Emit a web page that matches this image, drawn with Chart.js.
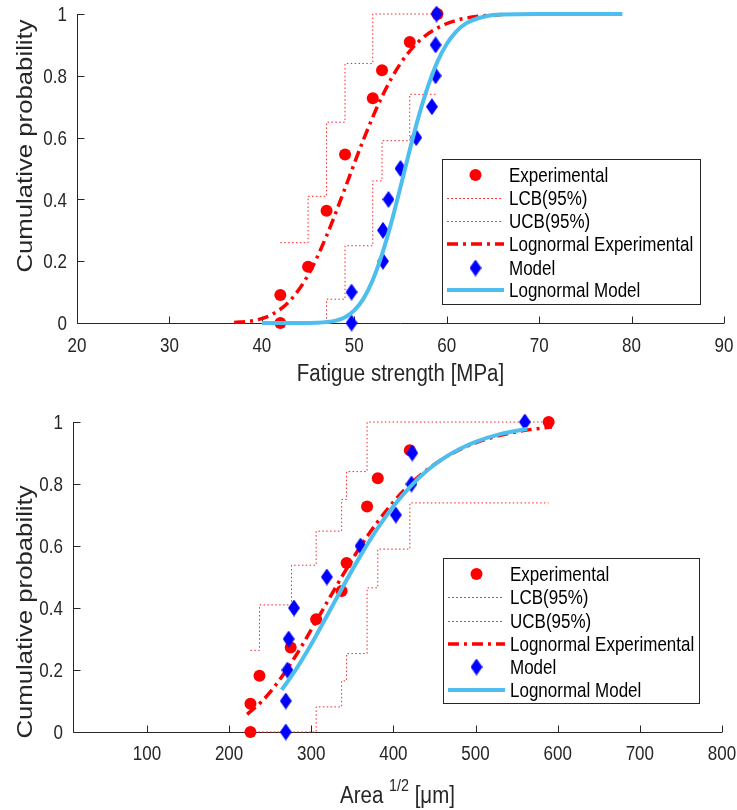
<!DOCTYPE html>
<html><head><meta charset="utf-8">
<script src="https://cdn.jsdelivr.net/npm/chart.js@4.4.1/dist/chart.umd.min.js"></script>
<style>
html,body{margin:0;padding:0;background:#fff;}
#wrap{position:relative;width:737px;height:810px;background:#fff;}
canvas{position:absolute;left:0;}
#c1{top:0;} #c2{top:390px;}
</style></head><body>
<div id="wrap"><canvas id="c1" width="737" height="390"></canvas><canvas id="c2" width="737" height="420"></canvas></div>
<script>
// ---------- Data: top panel (fatigue strength, MPa) ----------
const fsExpX = [42, 42, 45, 47, 49, 52, 53, 56, 59];
const fsExpY = [0, 0.0909, 0.1818, 0.3636, 0.5455, 0.7273, 0.8182, 0.9091, 1];
const fsUcbX = [42, 45, 47, 49, 52, 59];
const fsUcbY = [0.26, 0.41, 0.65, 0.84, 1, 1];
const fsLcbX = [42, 47, 49, 52, 53, 56, 59];
const fsLcbY = [0, 0.077, 0.25, 0.46, 0.59, 0.74, 0.74];
const fsLogExpX = [37, 39, 41, 43, 45, 47, 49, 51, 53, 55, 57, 59, 61, 63, 66];
const fsLogExpY = [0.0015, 0.0072, 0.026, 0.071, 0.155, 0.282, 0.436, 0.594, 0.733, 0.840, 0.912, 0.955, 0.979, 0.991, 0.998];
const fsModelX = [49.7, 49.7, 53.1, 53.1, 53.7, 55.0, 56.7, 58.4, 58.8, 58.8, 58.9];
const fsModelY = [0, 0.1, 0.2, 0.3, 0.4, 0.5, 0.6, 0.7, 0.8, 0.9, 1];
const fsLogModX = [40, 44, 46, 48, 49, 50, 51, 52, 53, 54, 55, 56, 57, 58, 59, 60, 61, 62, 64, 66, 70, 79];
const fsLogModY = [0, 0.0001, 0.0009, 0.0078, 0.019, 0.041, 0.079, 0.139, 0.222, 0.324, 0.440, 0.560, 0.672, 0.768, 0.846, 0.903, 0.942, 0.968, 0.991, 0.998, 1, 1];
const fsTicksX = [20, 30, 40, 50, 60, 70, 80, 90];

// ---------- Data: bottom panel (Area^1/2, um) ----------
const arExpX = [226, 226, 237, 275, 306, 337, 343, 368, 381, 420, 589];
const arExpY = [0, 0.0909, 0.1818, 0.2727, 0.3636, 0.4545, 0.5455, 0.7273, 0.8182, 0.9091, 1];
const arUcbX = [226, 237, 276, 306, 337, 343, 368, 589];
const arUcbY = [0.2635, 0.41, 0.538, 0.648, 0.75, 0.84, 1, 1];
const arLcbX = [226, 306, 337, 343, 368, 381, 420, 589];
const arLcbY = [0, 0.081, 0.165, 0.253, 0.465, 0.59, 0.739, 0.739];
const arLogExpX = [222, 240, 260, 280, 300, 320, 340, 360, 380, 400, 420, 440, 460, 480, 500, 530, 560, 593];
const arLogExpY = [0.057, 0.099, 0.163, 0.241, 0.330, 0.422, 0.513, 0.599, 0.675, 0.742, 0.798, 0.844, 0.881, 0.910, 0.933, 0.957, 0.973, 0.984];
const arModelX = [269, 269, 271, 272.5, 279, 319, 360, 403, 422, 423, 560];
const arModelY = [0, 0.1, 0.2, 0.3, 0.4, 0.5, 0.6, 0.7, 0.8, 0.9, 1];
const arLogModX = [264, 280, 300, 320, 340, 360, 380, 400, 420, 440, 460, 480, 500, 530, 563];
const arLogModY = [0.136, 0.196, 0.283, 0.379, 0.476, 0.569, 0.654, 0.728, 0.790, 0.841, 0.881, 0.912, 0.936, 0.961, 0.978];
const arTicksX = [100, 200, 300, 400, 500, 600, 700, 800];

const probTicks = [0, 0.2, 0.4, 0.6, 0.8, 1];
const legendLabels = ['Experimental', 'LCB(95%)', 'UCB(95%)', 'Lognormal Experimental', 'Model', 'Lognormal Model'];

// ---------- Styling ----------
const FAM = '"Liberation Sans", Arial, Helvetica, sans-serif';
const SY = 1.17;            // vertical stretch of the reference lettering
const TICK_SIZE = 17;
const LEG_SIZE = 17;
const TITLE_SIZE = 20.5;
const YTITLE_SIZE = 22;
const CAP = 0.716;
const AXIS = '#262626';
const RED = '#ff0000';
const BLUE = '#0000ff';
const LIGHTBLUE = '#4dbeee';
const DOT = '#ff2020';
const DASHDOT = [11, 5, 3, 5];
const DOTS = [1.5, 2.4];

function makeDiamond(w, h, color){
  const c = document.createElement('canvas'); c.width = w; c.height = h;
  const g = c.getContext('2d'); g.fillStyle = color;
  g.beginPath(); g.moveTo(w/2, 0); g.lineTo(w, h/2); g.lineTo(w/2, h); g.lineTo(0, h/2); g.closePath(); g.fill();
  return c;
}
const diamond = makeDiamond(12, 17, BLUE);
const pts = (xs, ys) => xs.map((x, i) => ({x: x, y: ys[i]}));

function datasets(expX, expY, lcbX, lcbY, ucbX, ucbY, leX, leY, mX, mY, lmX, lmY){
  return [
    {label: legendLabels[0], data: pts(expX, expY), showLine: false, pointStyle: 'circle', pointRadius: 6, backgroundColor: RED, borderWidth: 0, order: 6, clip: false},
    {label: legendLabels[1], data: pts(lcbX, lcbY), showLine: true, stepped: 'before', borderColor: DOT, borderWidth: 1, borderDash: DOTS, pointRadius: 0, order: 5, clip: false},
    {label: legendLabels[2], data: pts(ucbX, ucbY), showLine: true, stepped: 'before', borderColor: DOT, borderWidth: 1, borderDash: DOTS, pointRadius: 0, order: 4, clip: false},
    {label: legendLabels[3], data: pts(leX, leY), showLine: true, borderColor: RED, borderWidth: 3.5, borderDash: DASHDOT, cubicInterpolationMode: 'monotone', pointRadius: 0, order: 3, clip: false},
    {label: legendLabels[4], data: pts(mX, mY), showLine: false, pointStyle: diamond, pointRadius: 7, backgroundColor: BLUE, borderWidth: 0, order: 2, clip: false},
    {label: legendLabels[5], data: pts(lmX, lmY), showLine: true, borderColor: LIGHTBLUE, borderWidth: 4, cubicInterpolationMode: 'monotone', pointRadius: 0, order: 1, clip: false}
  ];
}

// text drawn with the slight vertical stretch of the reference, centred vertically on (x, cy)
function stretchedText(ctx, txt, x, cy, size, align, color){
  ctx.save();
  ctx.font = size + 'px ' + FAM; ctx.textAlign = align; ctx.textBaseline = 'alphabetic'; ctx.fillStyle = color || AXIS;
  ctx.translate(x, cy); ctx.scale(1, SY);
  ctx.fillText(txt, 0, size * CAP / 2);
  ctx.restore();
}

const matlabPlugin = {
  id: 'matlab',
  beforeDatasetsDraw(chart, args, o){
    const ctx = chart.ctx, a = chart.chartArea, x = chart.scales.x, y = chart.scales.y;
    ctx.save();
    ctx.strokeStyle = AXIS; ctx.lineWidth = 1;
    ctx.beginPath();
    const lx = Math.round(a.left) + 0.5, by = Math.round(a.bottom) + 0.5;
    ctx.moveTo(lx, a.top); ctx.lineTo(lx, by);
    ctx.moveTo(lx, by); ctx.lineTo(a.right, by);
    x.ticks.forEach(t => { const px = Math.round(x.getPixelForValue(t.value)) + 0.5; ctx.moveTo(px, by); ctx.lineTo(px, by - 7); });
    y.ticks.forEach(t => { const py = Math.round(y.getPixelForValue(t.value)) + 0.5; ctx.moveTo(lx, py); ctx.lineTo(lx + 7, py); });
    ctx.stroke();
    ctx.restore();
    // tick labels, placed by the chart's own scales
    x.ticks.forEach(t => stretchedText(ctx, String(t.value), x.getPixelForValue(t.value), a.bottom + o.xLabelOffset, TICK_SIZE, 'center'));
    y.ticks.forEach(t => stretchedText(ctx, String(t.value), a.left - 10, y.getPixelForValue(t.value), TICK_SIZE, 'right'));
    // y title (rotated, stretched along its length)
    ctx.save();
    ctx.fillStyle = AXIS; ctx.font = YTITLE_SIZE + 'px ' + FAM; ctx.textAlign = 'center'; ctx.textBaseline = 'alphabetic';
    ctx.translate(o.yTitle.x, o.yTitle.y); ctx.rotate(-Math.PI / 2); ctx.scale(SY, 1);
    ctx.fillText('Cumulative probability', 0, 0);
    ctx.restore();
    // x title with optional superscript
    const parts = o.xTitle.parts;
    const supSize = TITLE_SIZE * 0.7;
    ctx.save();
    let total = 0;
    const widths = parts.map(p => { ctx.font = (p.sup ? supSize : TITLE_SIZE) + 'px ' + FAM; const w = ctx.measureText(p.text).width; total += w; return w; });
    ctx.restore();
    let cx = (a.left + a.right) / 2 - total / 2;
    parts.forEach((p, i) => {
      stretchedText(ctx, p.text, cx, o.xTitle.y - (p.sup ? TITLE_SIZE * 0.42 : 0), p.sup ? supSize : TITLE_SIZE, 'left');
      cx += widths[i];
    });
  },
  afterDatasetsDraw(chart, args, o){
    const ctx = chart.ctx, L = o.legend;
    ctx.save();
    ctx.fillStyle = '#fff'; ctx.strokeStyle = AXIS; ctx.lineWidth = 1;
    ctx.fillRect(L.box[0], L.box[1], L.box[2] - L.box[0], L.box[3] - L.box[1]);
    ctx.strokeRect(L.box[0] + 0.5, L.box[1] + 0.5, L.box[2] - L.box[0], L.box[3] - L.box[1]);
    const s0 = L.sample[0], s1 = L.sample[1], mc = (s0 + s1) / 2;
    L.rows.forEach((ry, i) => {
      ctx.save();
      if (i === 0){ ctx.fillStyle = RED; ctx.beginPath(); ctx.arc(mc, ry, 6, 0, Math.PI * 2); ctx.fill(); }
      else if (i === 1 || i === 2){ ctx.fillStyle = '#ff3a3a'; for (let dx = s0; dx < s1 - 3; dx += 4) ctx.fillRect(dx, ry, 2, 1); }
      else if (i === 3){ ctx.strokeStyle = RED; ctx.lineWidth = 3.5; ctx.setLineDash(DASHDOT); ctx.beginPath(); ctx.moveTo(s0, ry); ctx.lineTo(s1, ry); ctx.stroke(); }
      else if (i === 4){ ctx.drawImage(diamond, mc - diamond.width / 2, ry - diamond.height / 2); }
      else { ctx.strokeStyle = LIGHTBLUE; ctx.lineWidth = 4; ctx.beginPath(); ctx.moveTo(s0, ry); ctx.lineTo(s1, ry); ctx.stroke(); }
      ctx.restore();
      stretchedText(ctx, legendLabels[i], L.textX, ry, LEG_SIZE, 'left', '#000');
    });
    ctx.restore();
  }
};

function makeChart(id, cfg){
  return new Chart(document.getElementById(id), {
    type: 'scatter',
    data: {datasets: cfg.datasets},
    plugins: [matlabPlugin],
    options: {
      responsive: false, animation: false, devicePixelRatio: 1, events: [],
      layout: {padding: cfg.padding},
      plugins: {legend: {display: false}, tooltip: {enabled: false}, matlab: cfg.matlab},
      scales: {
        x: {type: 'linear', min: cfg.xMin, max: cfg.xMax,
            afterBuildTicks: s => { s.ticks = cfg.xTicks.map(v => ({value: v})); },
            afterFit: s => { s.height = cfg.xHeight; },
            grid: {display: false, drawTicks: false}, border: {display: false},
            ticks: {display: false}},
        y: {type: 'linear', min: 0, max: 1,
            afterBuildTicks: s => { s.ticks = probTicks.map(v => ({value: v})); },
            afterFit: s => { s.width = cfg.yWidth; },
            grid: {display: false, drawTicks: false}, border: {display: false},
            ticks: {display: false}}
      }
    }
  });
}

makeChart('c1', {
  datasets: datasets(fsExpX, fsExpY, fsLcbX, fsLcbY, fsUcbX, fsUcbY, fsLogExpX, fsLogExpY, fsModelX, fsModelY, fsLogModX, fsLogModY),
  padding: {left: 0, right: 13, top: 14, bottom: 0},
  xMin: 20, xMax: 90, xTicks: fsTicksX, xHeight: 67, yWidth: 77,
  matlab: {
    xLabelOffset: 22,
    yTitle: {x: 32, y: 146},
    xTitle: {y: 372, parts: [{text: 'Fatigue strength [MPa]', sup: false}]},
    legend: {box: [442, 159, 700, 304], rows: [175, 198, 221, 244, 268, 290], sample: [447, 504], textX: 509}
  }
});

makeChart('c2', {
  datasets: datasets(arExpX, arExpY, arLcbX, arLcbY, arUcbX, arUcbY, arLogExpX, arLogExpY, arModelX, arModelY, arLogModX, arLogModY),
  padding: {left: 0, right: 15, top: 32, bottom: 0},
  xMin: 10, xMax: 800, xTicks: arTicksX, xHeight: 78, yWidth: 73,
  matlab: {
    xLabelOffset: 20.5,
    yTitle: {x: 32, y: 222},
    xTitle: {y: 404, parts: [{text: 'Area ', sup: false}, {text: '1/2', sup: true}, {text: ' [\u03bcm]', sup: false}]},
    legend: {box: [443, 168, 699, 313], rows: [184, 207, 231, 254, 277, 300], sample: [448, 505], textX: 510}
  }
});
</script>
</body></html>
